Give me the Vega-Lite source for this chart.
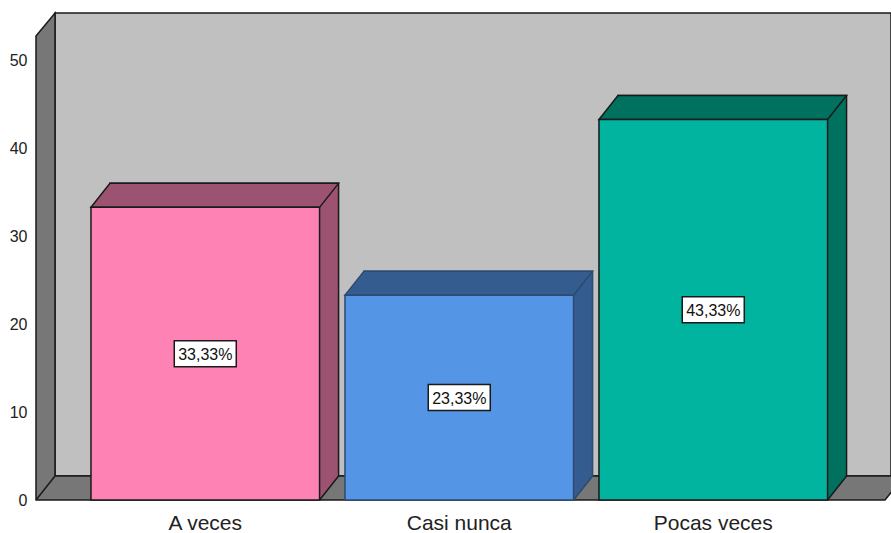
{
  "$schema": "https://vega.github.io/schema/vega-lite/v6.json",
  "width": 836,
  "height": 463,
  "padding": {"left": 55, "top": 13, "right": 0, "bottom": 57},
  "autosize": {"type": "none"},
  "background": "white",
  "config": {
    "view": {"fill": "#C0C0C0", "stroke": "#1a1a1a", "strokeWidth": 1.5},
    "font": "Liberation Sans",
    "axis": {"grid": false, "domain": false, "ticks": false, "labelFont": "Liberation Sans", "labelColor": "#222222"},
    "axisX": {"offset": 24, "labelOffset": -19, "labelPadding": 12, "labelFontSize": 21, "labelAngle": 0},
    "axisY": {"offset": 19, "labelOffset": 24, "labelPadding": 9, "labelFontSize": 16, "tickCount": 6}
  },
  "data": {"values": [
    {"categoria": "A veces", "porcentaje": 33.33, "etiqueta": "33,33%"},
    {"categoria": "Casi nunca", "porcentaje": 23.33, "etiqueta": "23,33%"},
    {"categoria": "Pocas veces", "porcentaje": 43.33, "etiqueta": "43,33%"}
  ]},
  "layer": [
    {
      "resolve": {"scale": {"fill": "independent"}},
      "layer": [
        {
          "data": {"values": [{"parte": "paredes"}]},
          "mark": {"type": "point", "shape": "M-437,-440 L-418,-463 L-418,0 L431,0 L412,24 L-437,24 Z M-437,24 L-418,0", "size": 4, "filled": true, "fill": "#777777", "stroke": "#1a1a1a", "strokeWidth": 1.5, "opacity": 1},
          "encoding": {
            "y": {"datum": 0, "type": "quantitative", "title": null, "scale": {"domain": [0, 52.73], "nice": false}}
          }
        },
        {
          "mark": {"type": "bar", "strokeWidth": 1.5, "opacity": 1},
          "encoding": {
            "x": {"field": "categoria", "type": "nominal", "title": null, "scale": {"domain": ["A veces", "Casi nunca", "Pocas veces"], "paddingInner": 0.1, "paddingOuter": 0.1957, "align": 0.553}},
            "y": {"field": "porcentaje", "type": "quantitative", "title": null, "stack": null, "scale": {"domain": [0, 52.73], "nice": false}},
            "y2": {"datum": 0},
            "fill": {"field": "categoria", "type": "nominal", "scale": {"domain": ["A veces", "Casi nunca", "Pocas veces"], "range": ["#9C5371", "#345C8E", "#00705F"]}, "legend": null},
            "stroke": {"field": "categoria", "type": "nominal", "scale": {"domain": ["A veces", "Casi nunca", "Pocas veces"], "range": ["#1a1a1a", "#2c4a72", "#1a1a1a"]}, "legend": null}
          }
        },
        {
          "mark": {"type": "point", "shape": "M-114.3,0 L114.3,0 L95.3,24 L-133.3,24 Z", "size": 4, "filled": true, "strokeWidth": 1.5, "opacity": 1},
          "encoding": {
            "x": {"field": "categoria", "type": "nominal", "title": null, "scale": {"domain": ["A veces", "Casi nunca", "Pocas veces"], "paddingInner": 0.1, "paddingOuter": 0.1957, "align": 0.553}},
            "y": {"field": "porcentaje", "type": "quantitative", "title": null, "stack": null, "scale": {"domain": [0, 52.73], "nice": false}},
            "fill": {"field": "categoria", "type": "nominal", "scale": {"domain": ["A veces", "Casi nunca", "Pocas veces"], "range": ["#9C5371", "#345C8E", "#00705F"]}, "legend": null},
            "stroke": {"field": "categoria", "type": "nominal", "scale": {"domain": ["A veces", "Casi nunca", "Pocas veces"], "range": ["#1a1a1a", "#2c4a72", "#1a1a1a"]}, "legend": null}
          }
        },
        {
          "mark": {"type": "point", "shape": "M95.3,24 L113.6,0.9 L113.6,-1.7 L95.3,-1.7 Z", "size": 4, "filled": true, "strokeWidth": 0, "opacity": 1},
          "encoding": {
            "x": {"field": "categoria", "type": "nominal", "title": null, "scale": {"domain": ["A veces", "Casi nunca", "Pocas veces"], "paddingInner": 0.1, "paddingOuter": 0.1957, "align": 0.553}},
            "y": {"datum": 0, "type": "quantitative", "title": null, "scale": {"domain": [0, 52.73], "nice": false}},
            "fill": {"field": "categoria", "type": "nominal", "scale": {"domain": ["A veces", "Casi nunca", "Pocas veces"], "range": ["#9C5371", "#345C8E", "#00705F"]}, "legend": null}
          }
        },
        {
          "mark": {"type": "point", "shape": "M95.3,24 L114.3,0", "size": 4, "filled": false, "strokeWidth": 1.5, "opacity": 1},
          "encoding": {
            "x": {"field": "categoria", "type": "nominal", "title": null, "scale": {"domain": ["A veces", "Casi nunca", "Pocas veces"], "paddingInner": 0.1, "paddingOuter": 0.1957, "align": 0.553}},
            "y": {"datum": 0, "type": "quantitative", "title": null, "scale": {"domain": [0, 52.73], "nice": false}},
            "stroke": {"field": "categoria", "type": "nominal", "scale": {"domain": ["A veces", "Casi nunca", "Pocas veces"], "range": ["#1a1a1a", "#2c4a72", "#1a1a1a"]}, "legend": null}
          }
        },
        {
          "mark": {"type": "bar", "strokeWidth": 1.5, "opacity": 1, "xOffset": -19, "yOffset": 24, "y2Offset": 24},
          "encoding": {
            "x": {"field": "categoria", "type": "nominal", "title": null, "scale": {"domain": ["A veces", "Casi nunca", "Pocas veces"], "paddingInner": 0.1, "paddingOuter": 0.1957, "align": 0.553}},
            "y": {"field": "porcentaje", "type": "quantitative", "title": null, "stack": null, "scale": {"domain": [0, 52.73], "nice": false}, "axis": {"values": [0, 10, 20, 30, 40, 50]}},
            "y2": {"datum": 0},
            "fill": {"field": "categoria", "type": "nominal", "scale": {"domain": ["A veces", "Casi nunca", "Pocas veces"], "range": ["#FF82B4", "#5595E5", "#00B4A0"]}, "legend": null},
            "stroke": {"field": "categoria", "type": "nominal", "scale": {"domain": ["A veces", "Casi nunca", "Pocas veces"], "range": ["#1a1a1a", "#2c4a72", "#1a1a1a"]}, "legend": null}
          }
        }
      ]
    },
    {
      "encoding": {
        "x": {"field": "categoria", "type": "nominal", "title": null, "scale": {"domain": ["A veces", "Casi nunca", "Pocas veces"], "paddingInner": 0.1, "paddingOuter": 0.1957, "align": 0.553}},
        "y": {"field": "porcentaje", "type": "quantitative", "title": null, "stack": null, "scale": {"domain": [0, 105.46], "nice": false}, "axis": null}
      },
      "layer": [
        {
          "mark": {"type": "point", "shape": "M-31,-13 L31,-13 L31,13 L-31,13 Z", "size": 4, "filled": true, "fill": "#ffffff", "stroke": "#1a1a1a", "strokeWidth": 1.5, "opacity": 1, "xOffset": -19, "yOffset": 24}
        },
        {
          "mark": {"type": "text", "font": "Liberation Sans", "fontSize": 16, "fill": "#111111", "align": "center", "baseline": "middle", "dx": -19, "dy": 25},
          "encoding": {"text": {"field": "etiqueta"}}
        }
      ]
    }
  ],
  "resolve": {"scale": {"y": "independent"}}
}
